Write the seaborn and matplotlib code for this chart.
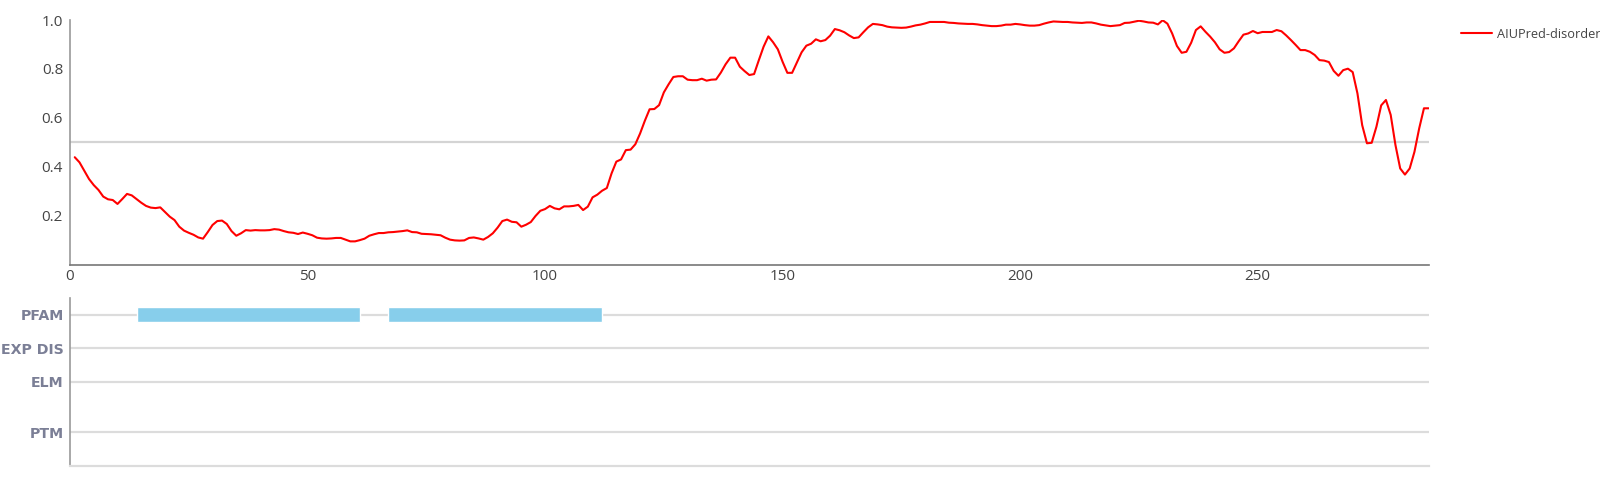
import numpy as np
import matplotlib
matplotlib.use("Agg")
import matplotlib.pyplot as plt
import seaborn as sns
import pandas as pd

# AIUPred disorder score per residue
disorder = [
    0.439, 0.418, 0.384, 0.350, 0.325, 0.305, 0.278, 0.267, 0.264, 0.248,
    0.268, 0.289, 0.283, 0.268, 0.253, 0.240, 0.233, 0.231, 0.234, 0.215,
    0.196, 0.182, 0.155, 0.139, 0.130, 0.122, 0.111, 0.106, 0.133, 0.162,
    0.178, 0.180, 0.166, 0.137, 0.118, 0.128, 0.141, 0.139, 0.141, 0.140,
    0.140, 0.141, 0.145, 0.143, 0.137, 0.132, 0.130, 0.125, 0.131, 0.126,
    0.120, 0.110, 0.107, 0.106, 0.107, 0.109, 0.109, 0.102, 0.095, 0.095,
    0.100, 0.106, 0.118, 0.124, 0.129, 0.129, 0.132, 0.133, 0.135, 0.137,
    0.140, 0.133, 0.132, 0.126, 0.125, 0.124, 0.122, 0.120, 0.110, 0.102,
    0.099, 0.098, 0.099, 0.109, 0.111, 0.107, 0.102, 0.113, 0.128, 0.151,
    0.178, 0.184, 0.175, 0.173, 0.155, 0.163, 0.174, 0.199, 0.220, 0.227,
    0.240, 0.230, 0.226, 0.238, 0.238, 0.240, 0.244, 0.223, 0.237, 0.275,
    0.286, 0.302, 0.313, 0.373, 0.421, 0.430, 0.468, 0.470, 0.492, 0.536,
    0.588, 0.635, 0.636, 0.652, 0.704, 0.737, 0.767, 0.770, 0.770, 0.756,
    0.754, 0.754, 0.760, 0.752, 0.756, 0.757, 0.785, 0.819, 0.846, 0.846,
    0.809, 0.791, 0.775, 0.779, 0.836, 0.891, 0.933, 0.909, 0.880, 0.829,
    0.784, 0.784, 0.826, 0.868, 0.895, 0.903, 0.921, 0.913, 0.918, 0.936,
    0.963, 0.958, 0.950, 0.937, 0.926, 0.929, 0.950, 0.970, 0.984, 0.982,
    0.979, 0.973, 0.970, 0.969, 0.968, 0.969, 0.973, 0.978, 0.981, 0.986,
    0.992, 0.992, 0.992, 0.992, 0.989, 0.988, 0.986, 0.985, 0.984, 0.984,
    0.982, 0.979, 0.977, 0.975, 0.975, 0.977, 0.981, 0.981, 0.984, 0.982,
    0.979, 0.977, 0.977, 0.979, 0.985, 0.990, 0.994, 0.993, 0.992, 0.992,
    0.990, 0.989, 0.988, 0.990, 0.990, 0.986, 0.981, 0.978, 0.975, 0.977,
    0.979, 0.988, 0.989, 0.993, 0.997, 0.994, 0.990, 0.989, 0.982, 0.999,
    0.985, 0.945, 0.894, 0.866, 0.870, 0.907, 0.959, 0.974, 0.952, 0.932,
    0.909, 0.880, 0.866, 0.869, 0.884, 0.913, 0.940, 0.945, 0.955, 0.946,
    0.951, 0.951, 0.951, 0.959, 0.954, 0.937, 0.918, 0.898, 0.877, 0.877,
    0.870, 0.857, 0.836, 0.834, 0.828, 0.792, 0.772, 0.795, 0.801, 0.787,
    0.700, 0.570, 0.496, 0.498, 0.564, 0.651, 0.673, 0.612, 0.489, 0.393,
    0.368, 0.393, 0.461, 0.557, 0.639, 0.639,
]
residues = np.arange(1, len(disorder) + 1)

# feature tracks
tracks = ["PFAM", "EXP DIS", "ELM", "PTM"]
track_pos = [4.5, 3.5, 2.5, 1.0]
pfam_start = [14, 67]
pfam_end = [61, 112]

x_ticks = [0, 50, 100, 150, 200, 250]
y_ticks = [0.2, 0.4, 0.6, 0.8, 1.0]

sns.set_style("white")
plt.rcParams['font.family'] = ['Open Sans', 'DejaVu Sans']

fig = plt.figure(figsize=(16, 5), dpi=100)
L, W = 70 / 1600, (1428.7 - 70) / 1600
ax = fig.add_axes([L, 1 - 264.6 / 500, W, (264.6 - 20) / 500])
ax2 = fig.add_axes([L, 1 - 465.7 / 500, W, (465.7 - 298) / 500])

# disorder profile
df = pd.DataFrame({'residue': residues, 'score': disorder})
ax.axhline(0.5, color='#d4d4d4', lw=1.6, zorder=1)
sns.lineplot(data=df, x='residue', y='score', color='#ff0000', lw=1.5,
             label='AIUPred-disorder', ax=ax, zorder=3)
ax.set_xlim(0, len(disorder))
ax.set_ylim(0, 1)
ax.set_xticks(x_ticks)
ax.set_yticks(y_ticks)
ax.set_yticklabels([f"{v:.1f}" for v in y_ticks])
ax.set_xlabel("")
ax.set_ylabel("")
ax.tick_params(axis='both', length=0, labelsize=11, labelcolor='#444444')
ax.tick_params(axis='y', pad=5)
ax.tick_params(axis='x', pad=3)
for s in ['top', 'right']:
    ax.spines[s].set_visible(False)
ax.spines['left'].set_color('#999999')
ax.spines['bottom'].set_color('#777777')
ax.spines['left'].set_linewidth(1.2)
ax.spines['bottom'].set_linewidth(1.2)
ax.legend(loc='center left', bbox_to_anchor=(1461 / 1600, 1 - 34.3 / 500),
          bbox_transform=fig.transFigure, frameon=False, fontsize=9.2,
          handlelength=2.4, handletextpad=0.45, borderpad=0, borderaxespad=0,
          labelcolor='#444444')

# feature track panel
for p in track_pos:
    ax2.axhline(p, color='#dcdcdc', lw=1.6, zorder=1)
ax2.barh([track_pos[0]] * len(pfam_start),
         [e - s for s, e in zip(pfam_start, pfam_end)],
         left=pfam_start, height=0.46, color='#87ceeb', zorder=2)
ax2.set_xlim(0, len(disorder))
ax2.set_ylim(0, 5)
ax2.set_xticks([])
ax2.set_yticks(track_pos)
ax2.set_yticklabels(tracks, fontweight='bold', family='DejaVu Sans')
ax2.tick_params(axis='y', length=0, pad=4.5, labelsize=10.2, labelcolor='#7b7f96')
for s in ['top', 'right']:
    ax2.spines[s].set_visible(False)
ax2.spines['left'].set_color('#999999')
ax2.spines['left'].set_linewidth(1.2)
ax2.spines['bottom'].set_color('#dcdcdc')
ax2.spines['bottom'].set_linewidth(1.6)

fig.savefig("out.png", dpi=100)
